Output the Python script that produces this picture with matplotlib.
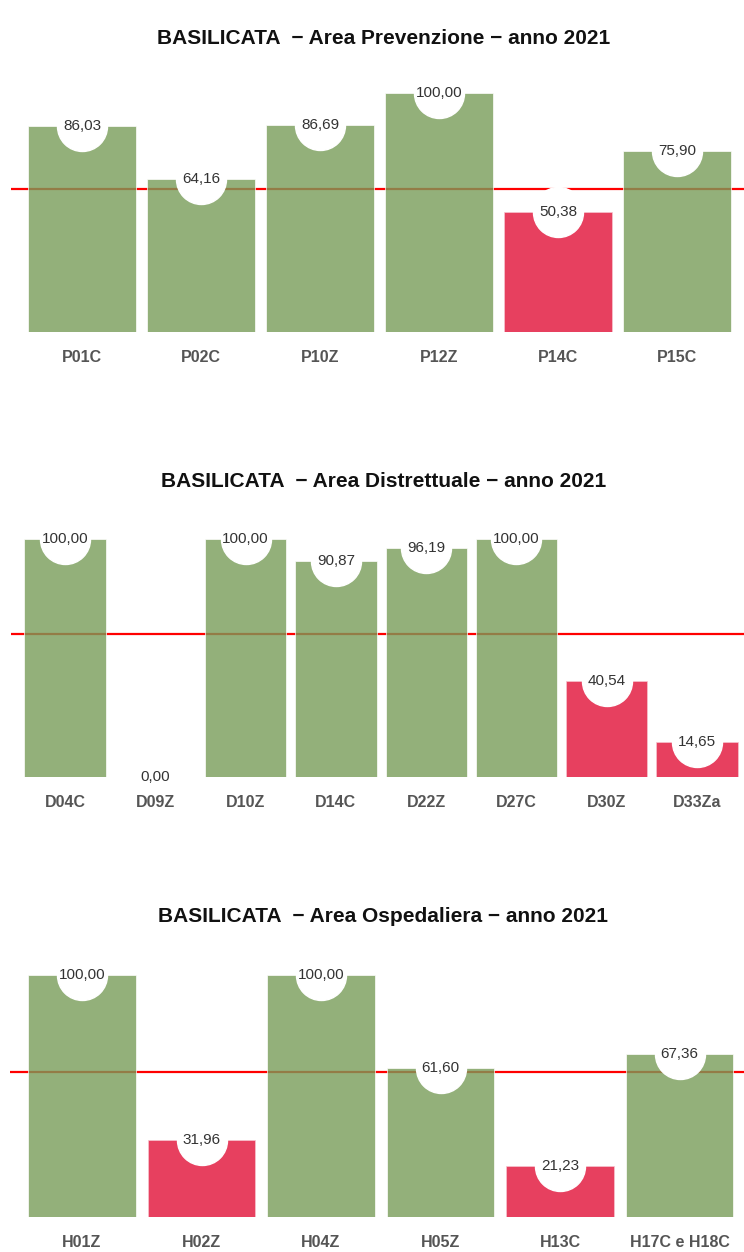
import numpy as np
import matplotlib.pyplot as plt

plt.rcParams['font.family'] = ['Liberation Sans Narrow', 'Liberation Sans', 'DejaVu Sans']

soglia = 60

prev_labels = ['P01C', 'P02C', 'P10Z', 'P12Z', 'P14C', 'P15C']
prev_values = [86.03, 64.16, 86.69, 100.00, 50.38, 75.90]

dist_labels = ['D04C', 'D09Z', 'D10Z', 'D14C', 'D22Z', 'D27C', 'D30Z', 'D33Za']
dist_values = [100.00, 0.00, 100.00, 90.87, 96.19, 100.00, 40.54, 14.65]

osp_labels = ['H01Z', 'H02Z', 'H04Z', 'H05Z', 'H13C', 'H17C e H18C']
osp_values = [100.00, 31.96, 100.00, 61.60, 21.23, 67.36]

green = '#789C59'
red = '#E21037'

W, H = 744, 1252
fig = plt.figure(figsize=(W / 100, H / 100), dpi=100)


def panel(labels, values, title, base_px, top_px, title_px, first_center, step):
    n = len(labels)
    bottom = (H - base_px) / H
    height = (base_px - top_px) / H
    ax = fig.add_axes([0, bottom, 1, height])
    x = np.arange(n)
    ax.set_xlim(-first_center / step, (W - first_center) / step)
    ax.set_ylim(0, 105)
    ax.hlines(soglia, -0.6, n - 0.4, color='red', lw=1.6, zorder=1)
    for xi, v in zip(x, values):
        c = green if v >= soglia else red
        ec = 'white' if v >= soglia else '#f7c6d0'
        ax.bar(xi, v, width=0.9, color=c, alpha=0.8, edgecolor=ec, linewidth=0.6, zorder=2)
        # cerchio bianco dietro l'etichetta
        ax.plot(xi, v, 'o', ms=36, mfc='white', mec='white', zorder=3, clip_on=True)
        ax.text(xi, v, f'{v:.2f}'.replace('.', ','), ha='center', va='center',
                fontsize=11, color='#333333', family=['Liberation Sans', 'DejaVu Sans'],
                zorder=4, clip_on=False)
    ax.set_xticks(x)
    ax.set_xticklabels(labels, fontsize=11.5, fontweight='bold', color='#555555')
    ax.tick_params(axis='x', length=0, pad=13)
    ax.set_yticks([])
    for s in ax.spines.values():
        s.set_visible(False)
    fig.text(0.515, (H - title_px) / H, title, ha='center', va='center',
             fontsize=15, fontweight='bold', color='#111111')
    return ax


panel(prev_labels, prev_values, 'BASILICATA  \u2212 Area Prevenzione \u2212 anno 2021',
      332, 332 - 105 * 2.39, 38, 82, 119)
panel(dist_labels, dist_values, 'BASILICATA  \u2212 Area Distrettuale \u2212 anno 2021',
      777, 777 - 105 * 2.38, 482, 65, 90.3)
panel(osp_labels, osp_values, 'BASILICATA  \u2212 Area Ospedaliera \u2212 anno 2021',
      1217, 1217 - 105 * 2.42, 917, 82, 119.5)

fig.savefig('out.png', dpi=100)
